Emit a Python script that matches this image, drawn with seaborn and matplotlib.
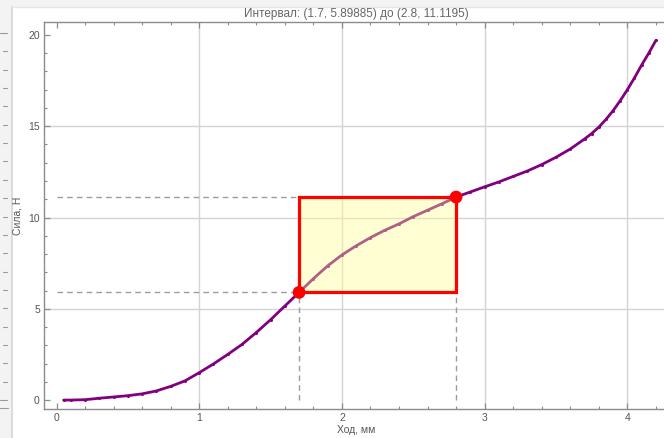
import matplotlib
matplotlib.use("Agg")
import matplotlib.pyplot as plt
import seaborn as sns
import pandas as pd
from matplotlib.patches import Rectangle
from matplotlib.lines import Line2D
from matplotlib.ticker import MultipleLocator

# ---- data ----
stroke_mm = [0.05, 0.1, 0.2, 0.3, 0.4, 0.5, 0.6, 0.7, 0.8, 0.9, 1.0, 1.1, 1.2, 1.3,
             1.4, 1.5, 1.6, 1.7, 1.8, 1.9, 2.0, 2.1, 2.2, 2.3, 2.4, 2.5, 2.6, 2.7,
             2.8, 2.9, 3.0, 3.1, 3.2, 3.3, 3.4, 3.5, 3.6, 3.7, 3.75, 3.8, 3.85, 3.9,
             3.95, 4.0, 4.05, 4.1, 4.15, 4.2]
force_n = [0.0, 0.0, 0.02, 0.1, 0.17, 0.24, 0.34, 0.5, 0.75, 1.05, 1.5, 1.98, 2.5, 3.05,
           3.7, 4.4, 5.15, 5.9, 6.65, 7.35, 7.95, 8.45, 8.9, 9.3, 9.65, 10.05, 10.4, 10.75,
           11.12, 11.4, 11.68, 11.95, 12.25, 12.55, 12.9, 13.3, 13.75, 14.3, 14.6, 14.95,
           15.37, 15.85, 16.4, 17.0, 17.65, 18.35, 19.0, 19.7]
interval_x = [1.7, 2.8]
interval_y = [5.89885, 11.1195]
title_text = "Интервал: (1.7, 5.89885) до (2.8, 11.1195)"
x_label = "Ход, мм"
y_label = "Сила, Н"
x_major = [0, 1, 2, 3, 4]
y_major = [0, 5, 10, 15, 20]
x_grid = [1, 2, 3, 4]
y_grid = [5, 10, 15]

df = pd.DataFrame({"x": stroke_mm, "y": force_n})
pts = pd.DataFrame({"x": interval_x, "y": interval_y})

sns.set_style("white")
plt.rcParams["font.family"] = ["Liberation Sans", "DejaVu Sans"]

W, H = 664, 438
fig = plt.figure(figsize=(W / 100, H / 100), dpi=100)
fig.patch.set_facecolor("#f3f3f3")

# white panel + border (drawn behind the axes)
panel = Rectangle((12 / W, 0), 1, 1 - 7 / H, transform=fig.transFigure,
                  facecolor="white", edgecolor="none", zorder=-5)
fig.patches.append(panel)
fig.lines.append(Line2D([12 / W, 12 / W], [0, 1 - 7 / H], transform=fig.transFigure,
                        color="#dcdcdc", lw=1.5, zorder=-4))
fig.lines.append(Line2D([12 / W, 1], [1 - 7 / H, 1 - 7 / H], transform=fig.transFigure,
                        color="#e6e6e6", lw=1, zorder=-4))
# fragment of neighbouring panel at the left edge
for i in range(21):
    ypx = 33 + i * (400 - 33) / 20
    x0 = 0 if i in (0, 20) else 3
    fig.lines.append(Line2D([x0 / W, 7 / W], [1 - ypx / H, 1 - ypx / H],
                            transform=fig.transFigure, color="#9a9a9a", lw=0.8, zorder=-4))
fig.lines.append(Line2D([0, 8 / W], [1 - 408 / H, 1 - 408 / H],
                        transform=fig.transFigure, color="#9a9a9a", lw=0.8, zorder=-4))

ax = fig.add_axes([44 / W, (H - 409) / H, 624 / W, 387 / H])
ax.set_facecolor("white")
ax.set_xlim(-0.0876, 4.285)
ax.set_ylim(-0.49, 20.71)

for gx in x_grid:
    ax.axvline(gx, color="#d4d4d4", lw=1, zorder=0.5)
for gy in y_grid:
    ax.axhline(gy, color="#d4d4d4", lw=1, zorder=0.5)

# dashed guide lines
for px, py in zip(interval_x, interval_y):
    ax.plot([0, px], [py, py], color="#9c9c9c", lw=1, dashes=(4, 3), zorder=1)
    ax.plot([px, px], [0, py], color="#9c9c9c", lw=1, dashes=(4, 3), zorder=1)

sns.lineplot(data=df, x="x", y="y", ax=ax, color="#800080", lw=2.0,
             marker="o", markersize=2.2, markeredgewidth=0, zorder=2, legend=False)

rect = Rectangle((interval_x[0], interval_y[0]), interval_x[1] - interval_x[0],
                 interval_y[1] - interval_y[0], facecolor=(1, 1, 0.55, 0.38),
                 edgecolor="#ff0000", lw=2.3, zorder=3)
ax.add_patch(rect)

sns.scatterplot(data=pts, x="x", y="y", ax=ax, color="#ff0000", s=85,
                edgecolor="none", zorder=4, legend=False)

# frame
for side in ("left", "bottom", "top"):
    ax.spines[side].set_visible(True)
    ax.spines[side].set_color("#8c8c8c")
    ax.spines[side].set_linewidth(1)
ax.spines["right"].set_visible(False)

ax.set_xticks(x_major)
ax.set_yticks(y_major)
ax.xaxis.set_minor_locator(MultipleLocator(0.2))
ax.yaxis.set_minor_locator(MultipleLocator(1))
ax.tick_params(axis="both", which="both", direction="in", colors="#8c8c8c",
               labelcolor="#555555", labelsize=7.5, pad=3)
ax.tick_params(axis="x", which="both", top=True, labeltop=False, bottom=True)
ax.tick_params(axis="y", which="both", left=True, right=False)
ax.tick_params(which="major", length=4, width=0.9)
ax.tick_params(which="minor", length=2.2, width=0.8)

ax.set_xlabel(x_label, fontsize=7.5, color="#555555")
ax.set_ylabel(y_label, fontsize=7.5, color="#555555")
ax.xaxis.label.set_va("center")
ax.yaxis.label.set_va("center")
ax.xaxis.set_label_coords(0.5, (409 - 430) / 387)
ax.yaxis.set_label_coords((18 - 44) / 624, 0.5)

fig.text(356 / W, 1 - 14 / H, title_text, ha="center", va="center",
         fontsize=8.5, color="#666666")

fig.savefig("out.png", dpi=100, facecolor=fig.get_facecolor())
